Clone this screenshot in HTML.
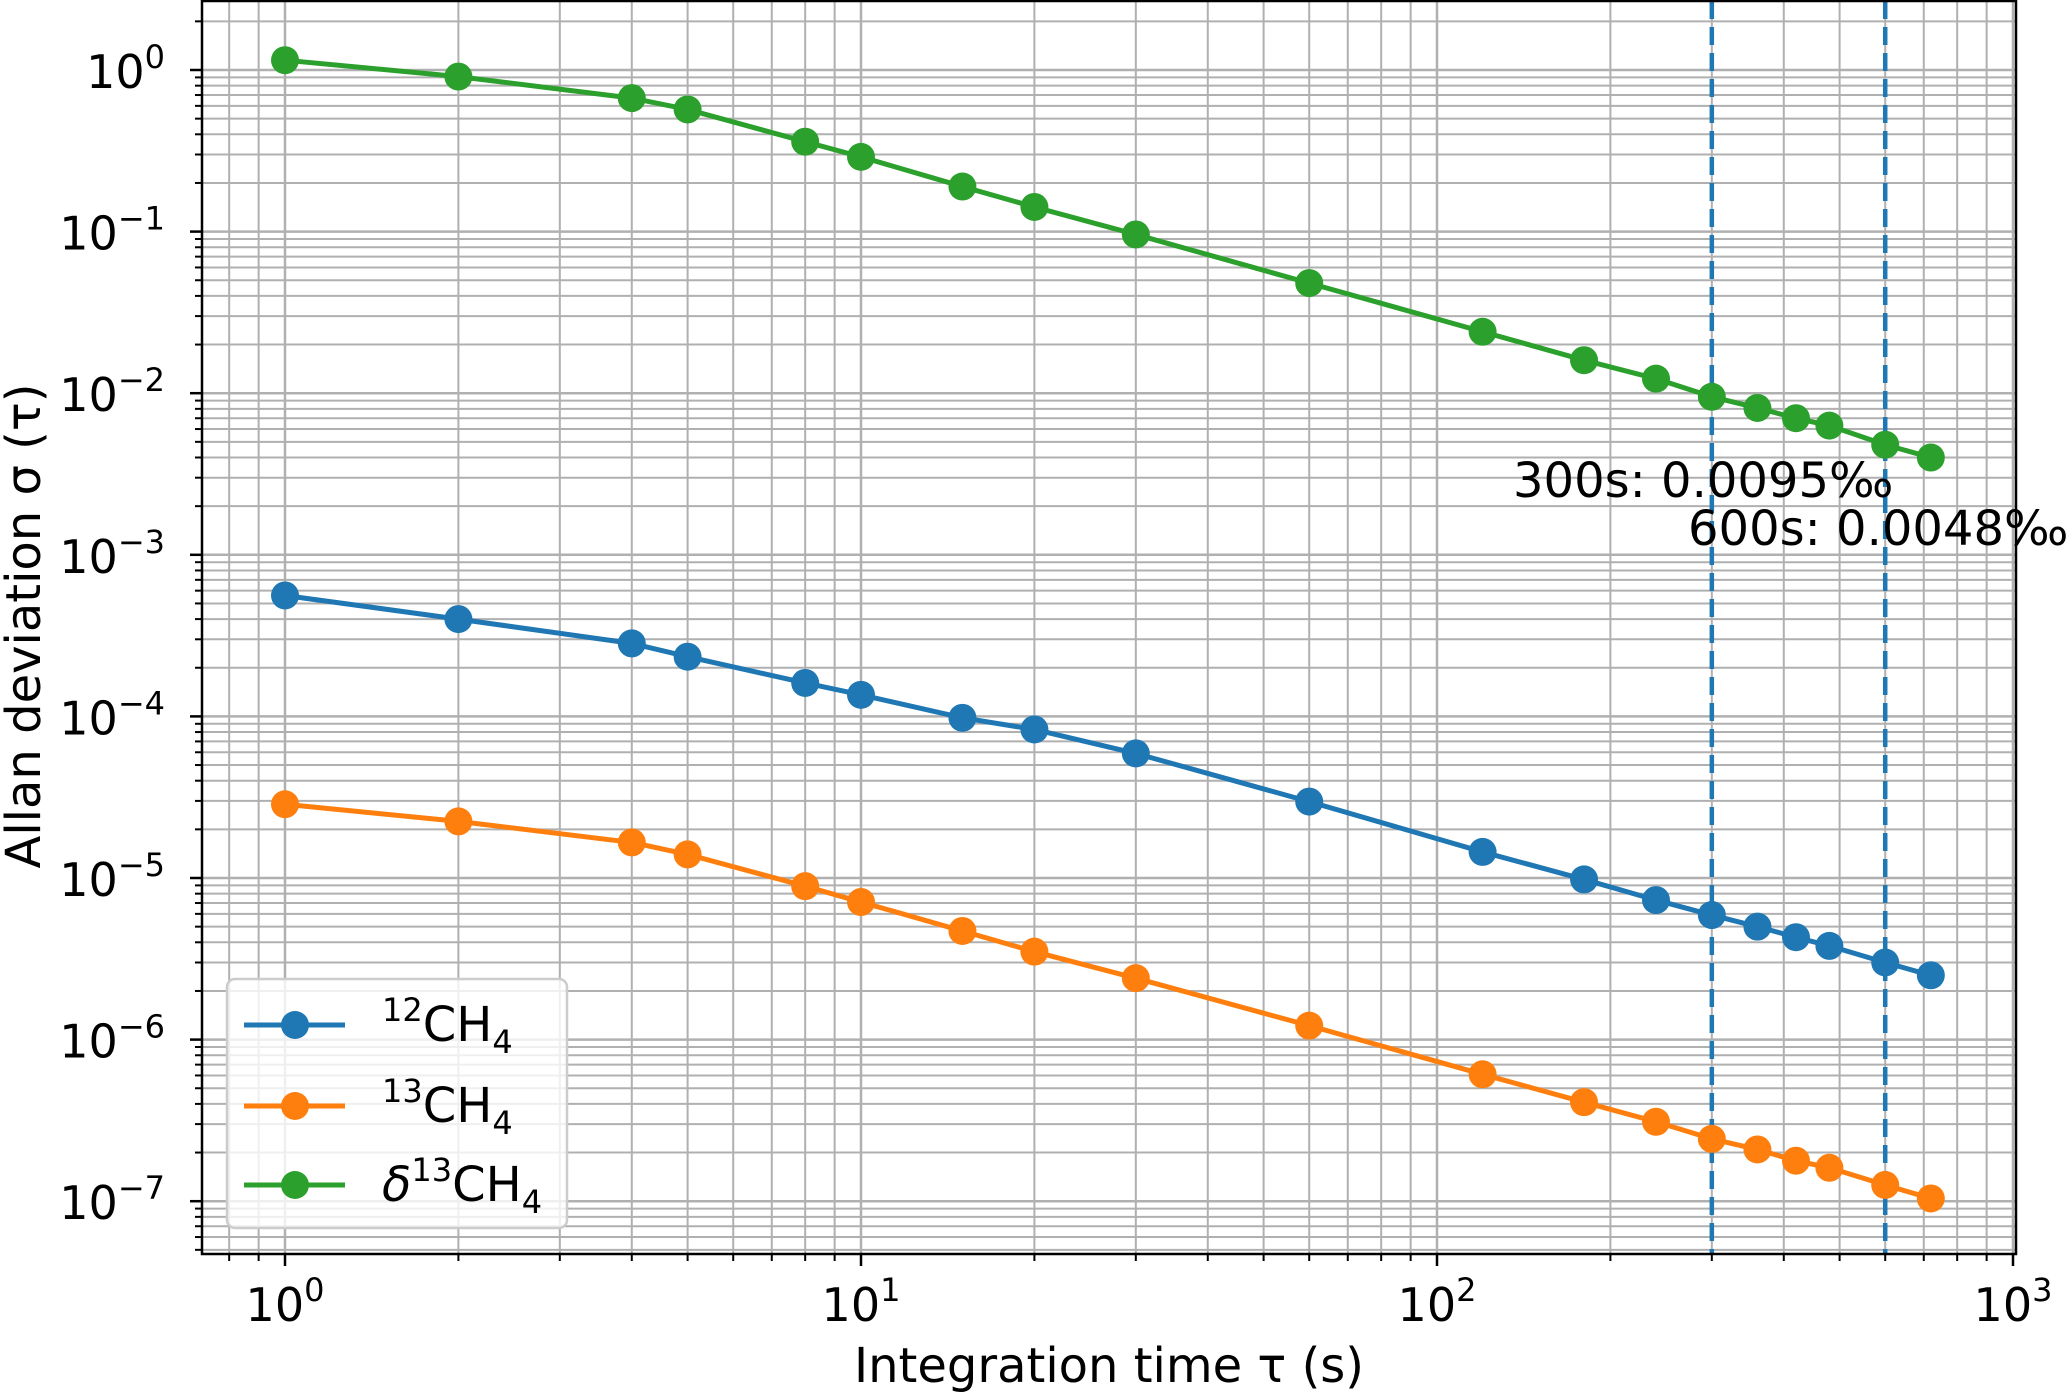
<!DOCTYPE html>
<html><head><meta charset="utf-8"><style>
html,body{margin:0;padding:0;background:#fff}
svg{display:block;font-family:"DejaVu Sans","Liberation Sans",sans-serif}
</style></head><body>
<svg id="chart" width="2067" height="1393" viewBox="0 0 2067 1393" xmlns="http://www.w3.org/2000/svg"></svg>
<script>
const taus = [1,2,4,5,8,10,15,20,30,60,120,180,240,300,360,420,480,600,720];
const ch12 = [5.6e-4,4.0e-4,2.83e-4,2.34e-4,1.61e-4,1.36e-4,9.8e-5,8.3e-5,5.9e-5,2.97e-5,1.45e-5,9.8e-6,7.3e-6,5.9e-6,5.0e-6,4.3e-6,3.8e-6,3.0e-6,2.5e-6];
const ch13 = [2.86e-5,2.24e-5,1.66e-5,1.40e-5,8.9e-6,7.1e-6,4.7e-6,3.5e-6,2.4e-6,1.22e-6,6.1e-7,4.1e-7,3.1e-7,2.43e-7,2.09e-7,1.78e-7,1.61e-7,1.26e-7,1.04e-7];
const d13 = [1.15,0.91,0.67,0.57,0.36,0.29,0.19,0.142,0.096,0.048,0.024,0.016,0.0123,0.0095,0.0081,0.0070,0.0063,0.0048,0.0040];
const xTickExps = [0,1,2,3];
const yTickExps = [0,-1,-2,-3,-4,-5,-6,-7];
const markTaus = [300,600];
const markLabels = ["300s: 0.0095‰","600s: 0.0048‰"];

const NS="http://www.w3.org/2000/svg";
const svg=document.getElementById('chart');
const L=202,R=2016,T=1,B=1254;
const X0=285,XD=576,Y0=70,YD=161.6;
const xs=v=>X0+Math.log10(v)*XD;
const ys=v=>Y0-Math.log10(v)*YD;
function mk(tag,at,parent){const e=document.createElementNS(NS,tag);for(const k in at)e.setAttribute(k,at[k]);(parent||svg).appendChild(e);return e;}

const grid=mk('g',{});


const ticks=mk('g',{});


for(let e=-1;e<=3;e++){for(let m=1;m<10;m++){const v=m*Math.pow(10,e);const x=xs(v);if(x<L||x>R+1)continue;
 mk('line',{x1:x,x2:x,y1:T,y2:B,stroke:'#b0b0b0','stroke-width':m==1?2.5:2},grid);
 mk('line',{x1:x,x2:x,y1:B,y2:B+(m==1?12:7),stroke:'#000','stroke-width':m==1?2.5:2},ticks);}}
for(let e=-8;e<=1;e++){for(let m=1;m<10;m++){const v=m*Math.pow(10,e);const y=ys(v);if(y<T||y>B)continue;
 mk('line',{x1:L,x2:R,y1:y,y2:y,stroke:'#b0b0b0','stroke-width':m==1?2.5:2},grid);
 mk('line',{x1:L,x2:L-(m==1?12:7),y1:y,y2:y,stroke:'#000','stroke-width':m==1?2.5:2},ticks);}}

markTaus.forEach((t,i)=>{const l=mk('line',{x1:xs(t),x2:xs(t),y1:T,y2:B,stroke:'#1f77b4','stroke-width':4.5,'stroke-dasharray':'18,8'});
 
 });

function series(vals,color,name){const g=mk('g',{});
 
 
 mk('polyline',{points:taus.map((t,i)=>xs(t)+','+ys(vals[i])).join(' '),fill:'none',stroke:color,'stroke-width':5},g);
 taus.forEach((t,i)=>{const c=mk('circle',{cx:xs(t),cy:ys(vals[i]),r:14,fill:color},g);
  
  });}
series(d13,'#2ca02c','delta13ch4-series');
series(ch12,'#1f77b4','12ch4-series');
series(ch13,'#ff7f0e','13ch4-series');

const ann=[[1513,497],[1688,545]];
markLabels.forEach((s,i)=>{const t=mk('text',{x:ann[i][0],y:ann[i][1],'font-size':48,fill:'#000'});t.textContent=s;
 
 });

const fr=mk('rect',{x:L,y:T,width:R-L,height:B-T,fill:'none',stroke:'#000','stroke-width':2.5});



xTickExps.forEach(e=>{const t=mk('text',{x:xs(Math.pow(10,e)),y:1321,'font-size':46,'text-anchor':'middle'});
 t.innerHTML='10<tspan dy="-20" font-size="32">'+e+'</tspan>';
 
 });
yTickExps.forEach(e=>{const s=e===0?'0':'\u2212'+(-e);const t=mk('text',{x:165,y:ys(Math.pow(10,e))+18,'font-size':46,'text-anchor':'end'});
 t.innerHTML='10<tspan dy="-20" font-size="32">'+s+'</tspan>';
 
 });

const xl=mk('text',{x:(L+R)/2,y:1382,'font-size':48,'text-anchor':'middle'});xl.textContent='Integration time τ (s)';


const yl=mk('text',{x:0,y:0,'font-size':48,'text-anchor':'middle',transform:'translate(40,626) rotate(-90)'});yl.textContent='Allan deviation σ (τ)';



const lg=mk('g',{});


mk('rect',{x:227,y:979,width:340,height:249,rx:8,fill:'rgba(255,255,255,0.8)',stroke:'#cccccc','stroke-width':2.5},lg);
const ents=[['#1f77b4','<tspan dy="-20" font-size="32">12</tspan><tspan dy="20">CH</tspan><tspan dy="12" font-size="32">4</tspan>'],
 ['#ff7f0e','<tspan dy="-20" font-size="32">13</tspan><tspan dy="20">CH</tspan><tspan dy="12" font-size="32">4</tspan>'],
 ['#2ca02c','<tspan font-style="italic">δ</tspan><tspan dy="-20" font-size="32">13</tspan><tspan dy="20">CH</tspan><tspan dy="12" font-size="32">4</tspan>']];
const ey=[1025,1106,1185];
ents.forEach((en,i)=>{const g=mk('g',{},lg);
 
 
 mk('line',{x1:244,x2:345,y1:ey[i],y2:ey[i],stroke:en[0],'stroke-width':5},g);
 mk('circle',{cx:295,cy:ey[i],r:14,fill:en[0]},g);
 const t=mk('text',{x:382,y:ey[i]+16,'font-size':48},g);t.innerHTML=en[1];});
</script>
</body></html>
